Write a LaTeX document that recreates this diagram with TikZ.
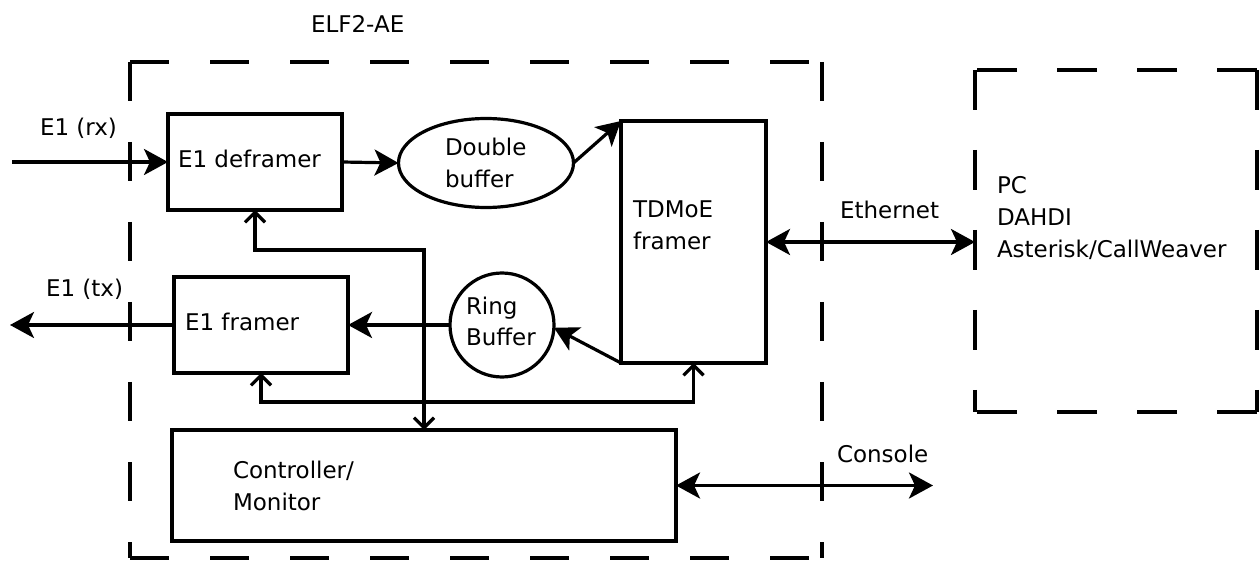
\documentclass[tikz,border=0pt]{standalone}
\usepackage{fontspec}
\setmainfont{DejaVu Sans}
\usetikzlibrary{arrows.meta,shapes.geometric}
\begin{document}
\begin{tikzpicture}[x=1pt,y=-1pt,
  every node/.style={inner sep=0pt, outer sep=0pt},
  blk/.style={draw, line width=3.2pt, rectangle},
  txt/.style={anchor=base west, font=\fontsize{23}{32}\selectfont, align=left},
  conn/.style={line width=3.2pt},
  sarr/.style={conn, -{Stealth[length=24pt,width=26pt,inset=6pt]}},
  darr/.style={conn, {Stealth[length=24pt,width=26pt,inset=6pt]}-{Stealth[length=24pt,width=26pt,inset=6pt]}},
  bus/.style={conn, {Straight Barb[length=10pt,width=20pt]}-{Straight Barb[length=10pt,width=20pt]}},
  elfdash/.style={line width=3.2pt, dash pattern=on 39pt off 41pt},
  pcdash/.style={line width=3.2pt, dash pattern=on 40pt off 40pt}]
\useasboundingbox (0,0) rectangle (1259,561);

% dashed enclosures
\draw[elfdash] (130,62) -- (130,558);
\draw[elfdash] (822,62) -- (822,558);
\draw[elfdash] (130,62) -- (822,62);
\draw[elfdash] (130,558) -- (822,558);
\draw[pcdash] (975,70) -- (975,412);
\draw[pcdash] (1257,70) -- (1257,412);
\draw[pcdash] (1257,70) -- (975,70);
\draw[pcdash] (1257,412) -- (975,412);

% blocks
\node[blk, minimum width=174pt, minimum height=96pt] (defr) at (255,162) {};
\node[blk, minimum width=174pt, minimum height=96pt] (fram) at (261,325) {};
\node[blk, minimum width=145pt, minimum height=242pt] (tdm) at (693.5,242) {};
\node[blk, minimum width=504pt, minimum height=111pt] (ctrl) at (424,485.5) {};
\node[draw, line width=3.2pt, ellipse, minimum width=175pt, minimum height=89pt] (dbuf) at (486,163) {};
\node[draw, line width=3.2pt, circle, minimum size=104pt] (ring) at (502,325) {};

\coordinate (rxs) at (12,162);
\coordinate (txe) at (10,325);
\coordinate (pcl) at (975,242);
\coordinate (cons) at (933,485.5);

% texts (base = baseline of the last line)
\node[txt] (tElf) at (311,33) {ELF2-AE};
\node[txt] (tRx) at (40,136) {E1 (rx)};
\node[txt] (tTx) at (46,297) {E1 (tx)};
\node[txt] (tDefr) at (178,168) {E1 deframer};
\node[txt] (tFram) at (185,331) {E1 framer};
\node[txt] (tDbuf) at (445,188) {Double\\buffer};
\node[txt] (tRing) at (466,346) {Ring\\Buffer};
\node[txt] (tTdm) at (633,250) {TDMoE\\framer};
\node[txt] (tEth) at (840,219) {Ethernet};
\node[txt] (tCons) at (837,462) {Console};
\node[txt] (tPc) at (997,258) {PC\\DAHDI\\Asterisk/CallWeaver};
\node[txt] (tCtrl) at (233,510) {Controller/\\Monitor};

% connectors
\draw[sarr] (rxs) -- (defr.west);
\draw[sarr] (fram.west) -- (txe);
\draw[sarr] (defr.east) -- (dbuf.west);
\draw[sarr] (dbuf.east) -- (tdm.north west);
\draw[sarr] (tdm.south west) -- (ring.-3);
\draw[sarr] (ring.west) -- (fram.east);
\draw[darr] (tdm.east) -- (pcl);
\draw[darr] (ctrl.east) -- (cons);
\draw[bus] (defr.south) -- ++(0,40) -| (ctrl.north);
\draw[bus] (fram.south) -- ++(0,29) -| (tdm.south);
\end{tikzpicture}
\end{document}
